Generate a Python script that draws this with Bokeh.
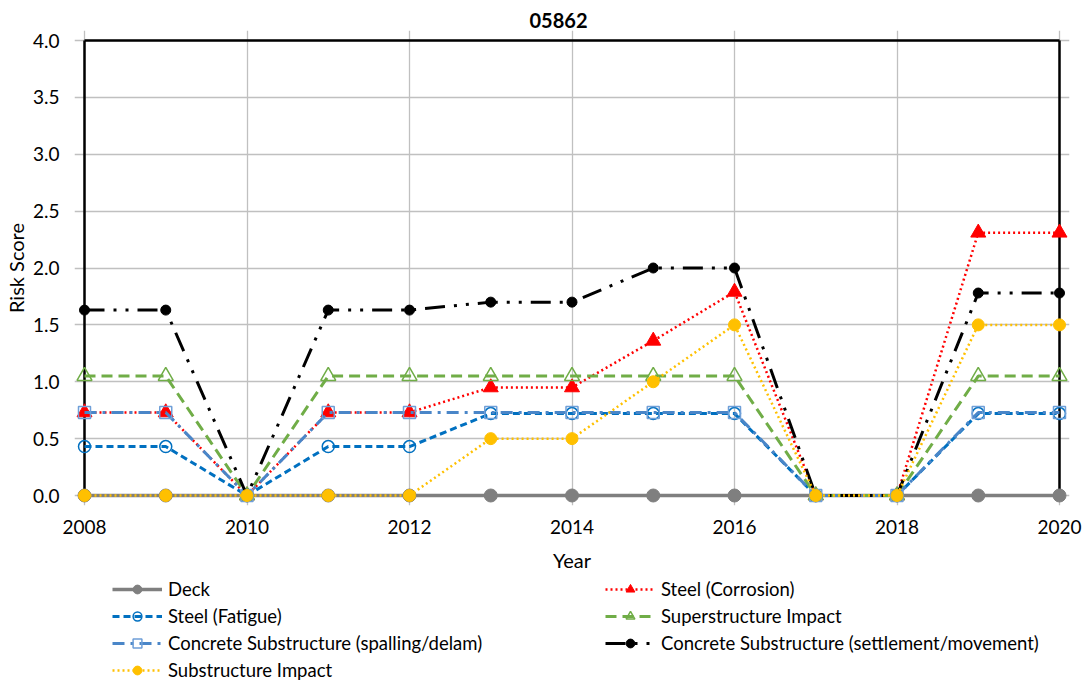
from bokeh.plotting import figure
from bokeh.models import (Range1d, FixedTicker, PrintfTickFormatter,
                          Legend, LegendItem)
from bokeh.layouts import column
from bokeh.embed import file_html
from bokeh.resources import INLINE

# ---- data ----
years = [2008, 2009, 2010, 2011, 2012, 2013, 2014, 2015, 2016, 2017, 2018, 2019, 2020]
deck = [0, 0, 0, 0, 0, 0, 0, 0, 0, 0, 0, 0, 0]
steel_corrosion = [0.73, 0.73, 0, 0.73, 0.73, 0.95, 0.95, 1.36, 1.79, 0, 0, 2.31, 2.31]
steel_fatigue = [0.43, 0.43, 0, 0.43, 0.43, 0.72, 0.72, 0.72, 0.72, 0, 0, 0.72, 0.72]
super_impact = [1.05, 1.05, 0, 1.05, 1.05, 1.05, 1.05, 1.05, 1.05, 0, 0, 1.05, 1.05]
conc_spalling = [0.73, 0.73, 0, 0.73, 0.73, 0.73, 0.73, 0.73, 0.73, 0, 0, 0.73, 0.73]
conc_settlement = [1.63, 1.63, 0, 1.63, 1.63, 1.70, 1.70, 2.0, 2.0, 0, 0, 1.78, 1.78]
sub_impact = [0, 0, 0, 0, 0, 0.5, 0.5, 1.0, 1.5, 0, 0, 1.5, 1.5]

x_ticks = [2008, 2010, 2012, 2014, 2016, 2018, 2020]
y_ticks = [0, 0.5, 1.0, 1.5, 2.0, 2.5, 3.0, 3.5, 4.0]

series = [
    # name, values, line style, marker style
    ("Deck", deck,
     dict(line_color="#7f7f7f", line_width=3.5),
     dict(marker="circle", size=13, fill_color="#7f7f7f", line_color="#7f7f7f")),
    ("Steel (Corrosion)", steel_corrosion,
     dict(line_color="#ff0000", line_width=2.5, line_dash="2 3"),
     dict(marker="triangle", size=15, fill_color="#ff0000", line_color="#ff0000")),
    ("Steel (Fatigue)", steel_fatigue,
     dict(line_color="#0070c0", line_width=3, line_dash="7 4"),
     dict(marker="circle", size=12, fill_color=None, line_color="#0070c0", line_width=1.5)),
    ("Superstructure Impact", super_impact,
     dict(line_color="#70ad47", line_width=3, line_dash="11 6"),
     dict(marker="triangle", size=15, fill_color=None, line_color="#70ad47", line_width=1.5)),
    ("Concrete Substructure (spalling/delam)", conc_spalling,
     dict(line_color="#4a86c8", line_width=3, line_dash="12 6 3 6"),
     dict(marker="square", size=12, fill_color=None, line_color="#6f9fd8", line_width=1.5)),
    ("Concrete Substructure (settlement/movement)", conc_settlement,
     dict(line_color="black", line_width=3, line_dash="20 9 3 9 3 9"),
     dict(marker="circle", size=10, fill_color="black", line_color="black")),
    ("Substructure Impact", sub_impact,
     dict(line_color="#ffc000", line_width=2.5, line_dash="2 3"),
     dict(marker="circle", size=12, fill_color="#ffc000", line_color="#ffc000")),
]

FONT = "Lato"

W = 1088
H_MAIN = 574
H_LEG = 107
px_per_year = 81.25
px_per_unit = 113.75
padx = 10 / px_per_year
pady = 10 / px_per_unit

p = figure(width=W, height=H_MAIN, output_backend="svg", toolbar_location=None,
           x_range=Range1d(years[0] - padx, years[-1] + padx),
           y_range=Range1d(y_ticks[0] - pady, y_ticks[-1] + pady),
           min_border_left=74, min_border_right=19, min_border_top=30,
           min_border_bottom=69, title="05862")

p.title.text_font = FONT
p.title.text_font_size = "20px"
p.title.text_font_style = "bold"
p.title.text_color = "black"
p.title.align = "left"
p.title.offset = 455
p.title.standoff = 6

p.outline_line_color = None
p.background_fill_color = "white"
p.border_fill_color = "white"

# grids
p.xgrid.ticker = FixedTicker(ticks=x_ticks)
p.ygrid.ticker = FixedTicker(ticks=y_ticks)
p.xgrid.grid_line_color = "#c0c0c0"
p.ygrid.grid_line_color = "#c0c0c0"
p.xgrid.grid_line_width = 1.3
p.ygrid.grid_line_width = 1.3

# axes
p.xaxis.ticker = FixedTicker(ticks=x_ticks)
p.yaxis.ticker = FixedTicker(ticks=y_ticks)
p.yaxis.formatter = PrintfTickFormatter(format="%.1f")
for ax in (p.xaxis[0], p.yaxis[0]):
    ax.axis_line_color = None
    ax.major_tick_line_color = None
    ax.minor_tick_line_color = None
    ax.major_label_text_font = FONT
    ax.major_label_text_font_size = "19px"
    ax.major_label_text_color = "black"
    ax.axis_label_text_font = FONT
    ax.axis_label_text_font_size = "20px"
    ax.axis_label_text_font_style = "normal"
    ax.axis_label_text_color = "black"
p.xaxis.axis_label = "Year"
p.yaxis.axis_label = "Risk Score"
p.xaxis.major_label_standoff = 8
p.xaxis.axis_label_standoff = 11
p.yaxis.major_label_standoff = 9
p.yaxis.axis_label_standoff = 2

# plot-area box at the data limits (left, right, top)
p.segment(x0=[years[0], years[-1], years[0]], y0=[y_ticks[0], y_ticks[0], y_ticks[-1]],
          x1=[years[0], years[-1], years[-1]], y1=[y_ticks[-1], y_ticks[-1], y_ticks[-1]],
          line_color="black", line_width=2.5)

for name, vals, lstyle, mstyle in series:
    p.line(years, vals, **lstyle)
    p.scatter(years, vals, **mstyle)

# ---- legend strip below the chart (its glyphs lie outside its ranges) ----
pl = figure(width=W, height=H_LEG, output_backend="svg", toolbar_location=None,
            x_range=Range1d(0, 1), y_range=Range1d(-10, -9),
            min_border_left=0, min_border_right=0, min_border_top=0, min_border_bottom=0)
pl.axis.visible = False
pl.grid.visible = False
pl.outline_line_color = None
pl.background_fill_color = "white"
pl.border_fill_color = "white"

items = {}
for name, vals, lstyle, mstyle in series:
    rl = pl.line(years, vals, **lstyle)
    rm = pl.scatter(years, vals, **mstyle)
    items[name] = LegendItem(label=name, renderers=[rl, rm])

def make_legend(names, x, y):
    lg = Legend(items=[items[n] for n in names], location=(x, y), orientation="vertical")
    lg.border_line_color = None
    lg.background_fill_alpha = 0
    lg.padding = 0
    lg.margin = 0
    lg.spacing = 5
    lg.glyph_width = 50
    lg.glyph_height = 22
    lg.label_height = 22
    lg.label_standoff = 6
    lg.label_text_font = FONT
    lg.label_text_font_size = "18.5px"
    lg.label_text_color = "black"
    return lg

pl.add_layout(make_legend(["Deck", "Steel (Fatigue)",
                           "Concrete Substructure (spalling/delam)",
                           "Substructure Impact"], 38, 0), "center")
pl.add_layout(make_legend(["Steel (Corrosion)", "Superstructure Impact",
                           "Concrete Substructure (settlement/movement)"], 531, 27), "center")

layout = column(p, pl, spacing=0)
open("out.html", "w").write(file_html(layout, INLINE))
